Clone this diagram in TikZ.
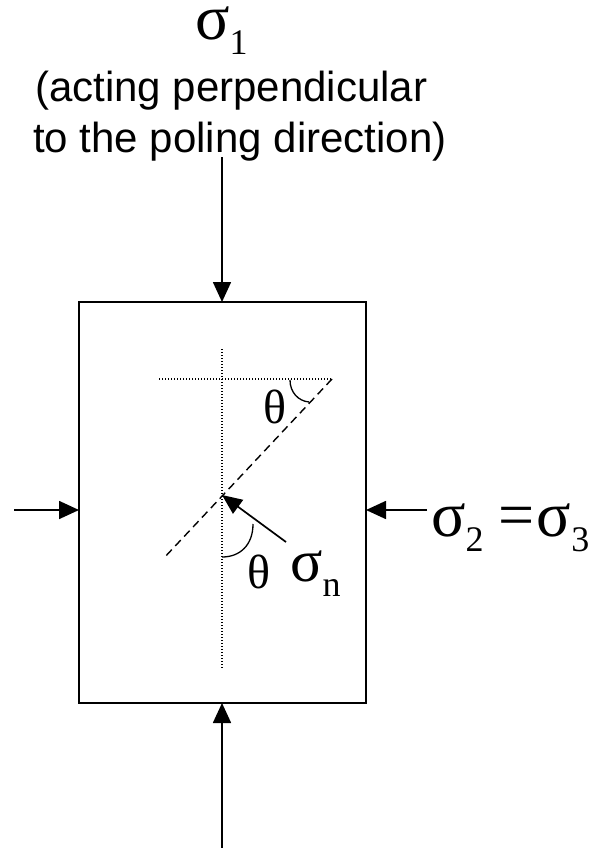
\documentclass[tikz,border=0pt]{standalone}
\usepackage{fontspec}
\setmainfont{Liberation Sans}
\newfontfamily\gk{Liberation Serif}
\usetikzlibrary{arrows.meta}
\tikzset{
  force/.style={line width=1.7pt,-{Triangle[length=20pt,width=18pt]}},
  dotline/.style={line width=1.4pt,dash pattern=on 1.4pt off 1.6pt},
  dashline/.style={line width=1.4pt,dash pattern=on 8pt off 5pt},
  sym/.style={inner sep=0pt,font=\gk\fontsize{64}{64}\selectfont},
  symn/.style={inner sep=0pt,font=\gk\fontsize{60}{60}\selectfont},
  ang/.style={inner sep=0pt,font=\gk\fontsize{48}{48}\selectfont},
  note/.style={inner sep=0pt,font=\fontsize{42}{42}\selectfont}
}
\newcommand{\lowsub}[1]{\raisebox{-15pt}{\fontsize{36}{36}\selectfont #1}}
\begin{document}
\begin{tikzpicture}[x=1pt,y=-1pt]
\useasboundingbox (0,0) rectangle (595,848);
% box
\draw[line width=1.9pt] (79,302) rectangle (366,703);
\coordinate (topc) at (222,302);
\coordinate (botc) at (222,703);
\coordinate (leftc) at (79,510);
\coordinate (rightc) at (366,510);
% labels
\node[sym,anchor=base west] (s1) at (195,40) {σ\lowsub{1}};
\node[note,anchor=base west] (l1) at (35,102) {(acting perpendicular};
\node[note,anchor=base west] (l2) at (33,153) {to the poling direction)};
\node[sym,anchor=base west] (s23) at (431,536) {σ\lowsub{2}\kern15pt=\kern2ptσ\lowsub{3}};
% force arrows
\coordinate (ts) at (222,157);
\coordinate (bs) at (222,848);
\coordinate (ls) at (14,510);
\coordinate (rs) at (427,510);
\draw[force] (ts) -- (topc);
\draw[force] (bs) -- (botc);
\draw[force] (ls) -- (leftc);
\draw[force] (rs) -- (rightc);
% construction lines
\coordinate (vt) at (222,349);
\coordinate (vb) at (222,668);
\coordinate (hl) at (159,379);
\coordinate (hr) at (332,379);
\coordinate (dl) at (163,559);
\coordinate (ix) at (222,495);
\coordinate (nt) at (286,542);
\draw[dotline] (vt) -- (vb);
\draw[dotline] (hl) -- (hr);
\draw[dashline] (hr) -- (dl);
\draw[line width=1.7pt,-{Triangle[length=20pt,width=17pt]}] (nt) -- (ix);
% angle arcs
\draw[line width=1.3pt] (290,380) .. controls (290,392) and (298,401) .. (309,402);
\draw[line width=1.3pt] (222,557) .. controls (240,557) and (253,545) .. (253,524);
% angle and stress labels
\node[ang] (th1) at (275,407) {θ};
\node[ang] (th2) at (259,572) {θ};
\node[symn,anchor=base west] (sn) at (290,581) {σ\lowsub{n}};
\end{tikzpicture}
\end{document}
